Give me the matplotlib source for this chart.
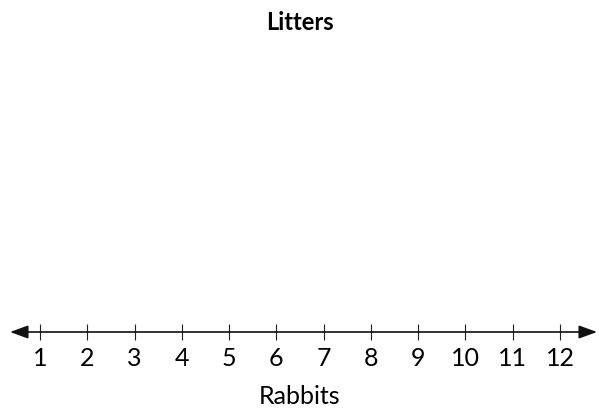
import matplotlib
matplotlib.use("Agg")
import matplotlib.pyplot as plt

## number line for a line plot, no marks yet
ticks = [1, 2, 3, 4, 5, 6, 7, 8, 9, 10, 11, 12]
tick_labels = [str(t) for t in ticks]
title = "Litters"
xlabel = "Rabbits"

plt.rcParams['font.family'] = ['Lato', 'DejaVu Sans']

fig = plt.figure(figsize=(5.99, 4.10), dpi=100)
ax = fig.add_axes([0, 77 / 410, 1, 0.6])

# x=1 at px 40, x=12 at px 560
ppu = 520 / 11
x0 = 1 - 40 / ppu
x1 = 12 + 39 / ppu
ax.set_xlim(x0, x1)
ax.set_ylim(0, 1)

for s in ["top", "left", "right", "bottom"]:
    ax.spines[s].set_visible(False)
ax.set_yticks([])
ax.set_xticks(ticks)
ax.set_xticklabels(tick_labels, fontsize=18)
ax.tick_params(axis="x", direction="inout", length=12, width=0.8, color="#222222", pad=4)

ax.annotate("", xy=(12 + 37 / ppu, 0), xytext=(1 - 30 / ppu, 0),
            arrowprops=dict(arrowstyle="<|-|>,head_length=0.55,head_width=0.2",
                            color="#111111", lw=1.2, mutation_scale=20,
                            shrinkA=0, shrinkB=0),
            annotation_clip=False)

ax.set_xlabel(xlabel, fontsize=18, labelpad=11)
fig.text(0.5, 1 - 23 / 410, title, ha="center", va="center", fontsize=17, fontweight="bold")

fig.savefig("out.png", dpi=100)
